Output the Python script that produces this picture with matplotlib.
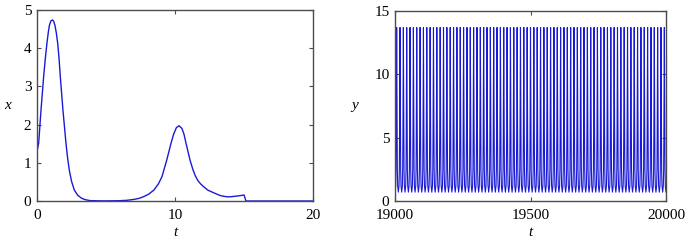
import numpy as np
import matplotlib
matplotlib.use("Agg")
import matplotlib.pyplot as plt

# left panel: x(t)
t_left = [0.0, 0.12, 0.29, 0.48, 0.6, 0.72, 0.82, 0.9, 1.0, 1.11, 1.2,
          1.3, 1.4, 1.5, 1.6, 1.69, 1.88, 2.1, 2.22, 2.34, 2.5, 2.7, 2.95,
          3.24, 3.5, 3.84, 4.5, 5.0, 6.0, 6.5, 7.0, 7.4, 7.7, 8.1, 8.48,
          8.8, 9.06, 9.4, 9.71, 9.9, 10.1, 10.29, 10.5, 10.65, 10.8, 11.09,
          11.3, 11.47, 11.65, 11.85, 12.05, 12.4, 12.9, 13.3, 13.75, 14.0,
          14.5, 14.8, 15.0, 15.07, 15.14, 20.0]
x_left = [1.3, 1.51, 2.38, 3.25, 3.72, 4.13, 4.42, 4.6, 4.71, 4.74, 4.71,
          4.6, 4.4, 4.13, 3.72, 3.25, 2.38, 1.51, 1.12, 0.81, 0.52, 0.29, 0.15,
          0.07, 0.035, 0.01, 0.004, 0.003, 0.008, 0.018, 0.04, 0.07, 0.11, 0.18, 0.29,
          0.45, 0.64, 1.07, 1.51, 1.75, 1.92, 1.97, 1.9, 1.75, 1.51, 1.07,
          0.82, 0.66, 0.54, 0.45, 0.38, 0.28, 0.2, 0.14, 0.11, 0.11,
          0.13, 0.145, 0.157, 0.08, 0.0, 0.0]

# right panel: y(t), one spike shape (fraction of a period) repeated
t_start, t_end = 19000, 20000
n_cycles = 81
cycle_frac = [0.0, 0.2, 0.3, 0.36, 0.43, 0.5, 0.57, 0.64, 0.7, 0.8, 1.0]
cycle_y = [0.7, 1.2, 2.5, 5.0, 9.5, 13.7, 9.5, 5.0, 2.5, 1.2, 0.7]

period = (t_end - t_start) / n_cycles
t_right = np.concatenate([t_start + (k + np.array(cycle_frac[:-1])) * period
                          for k in range(n_cycles)] + [[t_end]])
y_right = np.concatenate([cycle_y[:-1]] * n_cycles + [[cycle_y[-1]]])

plt.rcParams["font.family"] = ["Liberation Serif", "DejaVu Serif"]
plt.rcParams["font.size"] = 11

line_color = "#1a1ad6"
spine_color = "#4d4d4d"

fig = plt.figure(figsize=(6.85, 2.41), dpi=100)
ax1 = fig.add_axes([37 / 685, 40 / 241, 276 / 685, 191 / 241])
ax2 = fig.add_axes([395 / 685, 40 / 241, 271 / 685, 190 / 241])

ax1.plot(t_left, x_left, color=line_color, lw=1.0)
ax1.set_xlim(0, 20)
ax1.set_ylim(0, 5)
ax1.set_xticks([0, 10, 20])
ax1.set_yticks([0, 1, 2, 3, 4, 5])
ax1.set_xlabel("t", style="italic", labelpad=3)
ax1.set_ylabel("x", style="italic", rotation=0, labelpad=12, va="center")

ax2.plot(t_right, y_right, color=line_color, lw=0.8)
ax2.set_xlim(t_start, t_end)
ax2.set_ylim(0, 15)
ax2.set_xticks([19000, 19500, 20000])
ax2.set_yticks([0, 5, 10, 15])
ax2.set_xlabel("t", style="italic", labelpad=3)
ax2.set_ylabel("y", style="italic", rotation=0, labelpad=14, va="center")

for ax in (ax1, ax2):
    ax.tick_params(direction="in", top=True, right=True, length=3,
                   width=0.8, color=spine_color)
    ax.tick_params(axis="x", pad=6)
    ax.tick_params(axis="y", pad=4)
    for s in ax.spines.values():
        s.set_color(spine_color)
        s.set_linewidth(1.0)

fig.savefig("out.png", dpi=100)
